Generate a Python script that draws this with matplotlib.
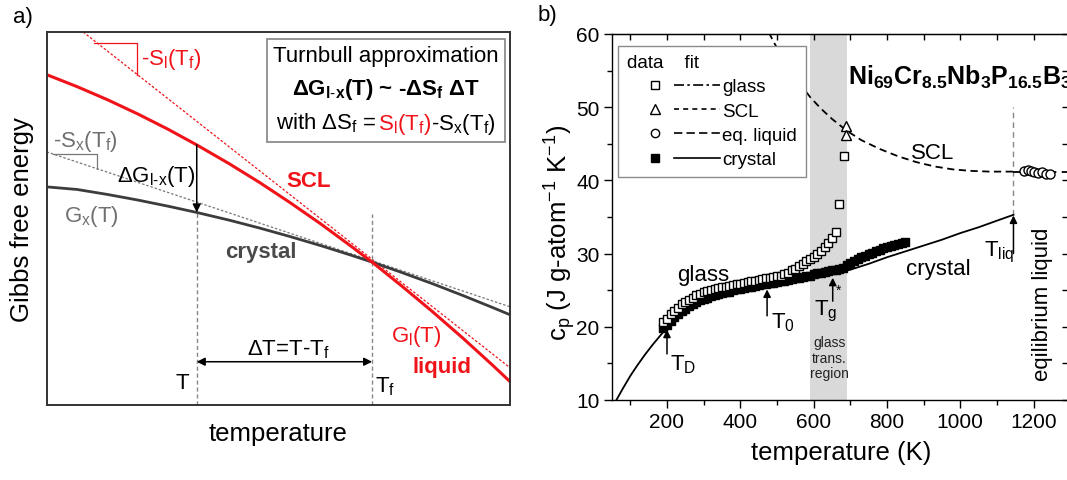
import matplotlib
matplotlib.use("Agg")
import matplotlib.pyplot as plt
from matplotlib.lines import Line2D
from matplotlib.legend_handler import HandlerBase
from matplotlib.offsetbox import TextArea, HPacker, VPacker, AnchoredOffsetbox
from matplotlib.ticker import MultipleLocator

plt.rcParams['font.family'] = ['Liberation Sans', 'DejaVu Sans']
plt.rcParams['mathtext.fontset'] = 'custom'
plt.rcParams['mathtext.rm'] = 'Liberation Sans'
plt.rcParams['mathtext.it'] = 'Liberation Sans:italic'
plt.rcParams['mathtext.bf'] = 'Liberation Sans:bold'
plt.rcParams['mathtext.default'] = 'regular'

RED = '#f0141a'
DARK = '#3c3c3c'
GREY = '#707070'

# ---- panel a): schematic free energy curves (arbitrary units) ----
temp_a = [0, 30, 60, 90, 120, 148, 180, 210, 240, 270, 300, 321, 350, 380, 410, 440, 457]
g_crystal = [218, 215.4, 210.4, 204.8, 198.6, 192.4, 184.7, 176.8, 168.3, 159.3,
             149.7, 142.7, 132.4, 121.3, 109.5, 97.2, 90.0]
g_liquid = [330.3, 318.3, 305.2, 290.9, 275.5, 260.0, 241.2, 222.4, 202.3, 181.2,
            158.8, 142.7, 119.0, 93.6, 67.1, 39.4, 23.1]
tangent_liq_T = [36, 457]
tangent_liq_G = [373, 37]
tangent_cry_T = [0, 457]
tangent_cry_G = [253, 98]
slope_liq_T = [47, 89, 89]
slope_liq_G = [362, 362, 330]
slope_cry_T = [6, 50, 50]
slope_cry_G = [251, 251, 236]
T_under = 148
T_fusion = 321
tf_line_top = 191

# ---- panel b): heat capacity of Ni69Cr8.5Nb3P16.5B3 ----
glass_T = [190, 200, 210, 220, 230, 240, 250, 260, 270, 280, 290, 300, 310, 320,
           330, 340, 350, 360, 370, 380, 390, 400, 410, 420, 430, 440, 450, 460,
           470, 480, 490, 500, 510, 520, 530, 540, 550, 560, 570, 580, 590, 600,
           610, 620, 630, 640, 650, 660, 670, 682]
glass_cp = [20.6, 21.1, 21.7, 22.2, 22.6, 23.1, 23.4, 23.7, 24.0, 24.3, 24.5, 24.7,
            24.9, 25.0, 25.1, 25.3, 25.4, 25.5, 25.6, 25.7, 25.8, 25.9, 26.0, 26.1,
            26.2, 26.3, 26.4, 26.5, 26.6, 26.7, 26.8, 26.9, 27.0, 27.2, 27.4, 27.7,
            27.9, 28.3, 28.6, 29.0, 29.3, 29.6, 30.0, 30.4, 30.9, 31.4, 32.1, 33.0,
            36.8, 43.4]
cry_T = [190, 200, 210, 220, 230, 240, 250, 260, 270, 280, 290, 300, 310, 320, 330,
         340, 350, 360, 370, 380, 390, 400, 410, 420, 430, 440, 450, 460, 470, 480,
         490, 500, 510, 520, 530, 540, 550, 560, 570, 580, 590, 600, 610, 620, 630,
         640, 650, 660, 670, 680, 690, 700, 710, 720, 730, 740, 750, 760, 770, 780,
         790, 800, 810, 820, 830, 840, 850]
cry_cp = [19.9, 20.3, 20.8, 21.3, 21.7, 22.1, 22.5, 22.8, 23.1, 23.4, 23.6, 23.8,
          24.0, 24.2, 24.3, 24.5, 24.6, 24.7, 24.8, 25.0, 25.1, 25.2, 25.3, 25.4,
          25.5, 25.6, 25.7, 25.8, 25.9, 26.0, 26.0, 26.1, 26.2, 26.3, 26.4, 26.5,
          26.6, 26.7, 26.8, 26.9, 27.0, 27.2, 27.3, 27.4, 27.5, 27.6, 27.7, 27.8,
          27.9, 28.1, 28.4, 28.7, 29.0, 29.2, 29.5, 29.7, 29.9, 30.1, 30.3, 30.5,
          30.7, 30.9, 31.0, 31.2, 31.3, 31.5, 31.6]
scl_T = [688, 689]
scl_cp = [47.4, 46.2]
liq_T = [1175, 1185, 1193, 1202, 1212, 1222, 1235, 1245]
liq_cp = [41.3, 41.4, 41.3, 41.2, 41.0, 41.1, 40.9, 40.9]

fit_cry_T = [62, 80, 100, 120, 140, 160, 180, 200, 250, 300, 350, 400, 450, 500,
             550, 600, 650, 700, 750, 800, 850, 900, 950, 1000, 1050, 1100, 1145]
fit_cry_cp = [10.0, 11.6, 13.3, 14.8, 16.2, 17.5, 18.7, 19.9, 22.1, 23.5, 24.4,
              25.0, 25.5, 25.9, 26.3, 26.7, 27.2, 27.8, 28.6, 29.5, 30.3, 31.1,
              31.9, 32.8, 33.6, 34.5, 35.3]
fit_scl_T = [478, 490, 510, 530, 560, 590, 620, 650, 690, 730, 780, 830, 880, 930,
             980, 1030, 1080, 1145]
fit_scl_cp = [60.2, 59.0, 57.2, 55.6, 53.4, 51.4, 49.8, 48.4, 46.8, 45.5, 44.3,
              43.3, 42.5, 41.9, 41.5, 41.3, 41.2, 41.2]
fit_liq_T = [1145, 1300]
fit_liq_cp = [41.2, 41.2]
glass_region = (590, 690)
T_liq = 1145


class MarkerLineHandler(HandlerBase):
    # legend entry: data marker on the left, fit line on the right
    def create_artists(self, legend, orig_handle, xdescent, ydescent,
                       width, height, fontsize, trans):
        mark, line = orig_handle
        y = height / 2 - ydescent
        m = Line2D([0.3 * width - xdescent], [y])
        m.update_from(mark)
        m.set_linestyle('none')
        m.set_transform(trans)
        ln = Line2D([0.5 * width - xdescent, width - xdescent], [y, y])
        ln.update_from(line)
        ln.set_marker('')
        ln.set_transform(trans)
        return [m, ln]


fig = plt.figure(figsize=(10.67, 4.81), dpi=100)
ax1 = fig.add_axes([46.7 / 1067, 1 - 405.7 / 481, 463.3 / 1067, 372.7 / 481])
ax2 = fig.add_axes([612 / 1067, 1 - 401 / 481, 458.3 / 1067, 366 / 481])

# ---------------- panel a ----------------
ax1.set_xlim(0, 457)
ax1.set_ylim(0, 373)
ax1.set_xticks([])
ax1.set_yticks([])
for s in ax1.spines.values():
    s.set_color('#333333')
    s.set_linewidth(1.4)

ax1.plot(tangent_liq_T, tangent_liq_G, color=RED, lw=0.9, ls=(0, (2, 1.5)))
ax1.plot(tangent_cry_T, tangent_cry_G, color='#777777', lw=0.9, ls=(0, (2, 1.5)))
ax1.plot(slope_liq_T, slope_liq_G, color=RED, lw=0.9)
ax1.plot(slope_cry_T, slope_cry_G, color='#777777', lw=0.9)
ax1.plot([T_under, T_under], [0, g_crystal[5]], color='#888888', lw=1, ls=(0, (3, 2)))
ax1.plot([T_fusion, T_fusion], [0, tf_line_top], color='#888888', lw=1, ls=(0, (3, 2)))
ax1.plot(temp_a, g_crystal, color=DARK, lw=2.0)
ax1.plot(temp_a, g_liquid, color=RED, lw=2.2)

ax1.annotate('', xy=(T_under, g_crystal[5]), xytext=(T_under, g_liquid[5]),
             arrowprops=dict(arrowstyle='-|>', color='k', lw=1.1, mutation_scale=12,
                             shrinkA=0, shrinkB=0))
ax1.annotate('', xy=(T_under, 43), xytext=(T_fusion, 43),
             arrowprops=dict(arrowstyle='<|-|>', color='k', lw=1.1, mutation_scale=12,
                             shrinkA=0, shrinkB=0))

fs = 16
ax1.text(93, 346, '-S$_l$(T$_f$)', color=RED, fontsize=fs, va='center')
ax1.text(6, 264, '-S$_x$(T$_f$)', color=GREY, fontsize=fs, va='center')
ax1.text(69, 229, r'ΔG$_{l\text{-}x}$(T)', color='k', fontsize=fs, va='center')
ax1.text(17, 189, 'G$_x$(T)', color=GREY, fontsize=fs, va='center')
ax1.text(211, 153, 'crystal', color='#4a4a4a', fontsize=fs, fontweight='bold',
         ha='center', va='center')
ax1.text(258, 224, 'SCL', color=RED, fontsize=fs, fontweight='bold', ha='center', va='center')
ax1.text(340, 69, 'G$_l$(T)', color=RED, fontsize=fs, va='center')
ax1.text(361, 38, 'liquid', color=RED, fontsize=fs, fontweight='bold', va='center')
ax1.text(238, 56, 'ΔT=T-T$_f$', color='k', fontsize=fs, ha='center', va='center')
ax1.text(134, 22, 'T', color='k', fontsize=fs, ha='center', va='center')
ax1.text(324, 19, 'T$_f$', color='k', fontsize=fs, va='center')

line1 = TextArea('Turnbull approximation', textprops=dict(fontsize=fs))
line2 = TextArea(r'ΔG$_{l\text{-}x}$(T) ~ -ΔS$_f$ ΔT',
                 textprops=dict(fontsize=fs, fontweight='bold'))
line3 = HPacker(children=[TextArea('with ΔS$_f$ = ', textprops=dict(fontsize=fs)),
                          TextArea('S$_l$(T$_f$)', textprops=dict(fontsize=fs, color=RED)),
                          TextArea('-S$_x$(T$_f$)', textprops=dict(fontsize=fs))],
                align='baseline', pad=0, sep=0)
box = VPacker(children=[line1, line2, line3], align='center', pad=0, sep=7)
anc = AnchoredOffsetbox(loc='upper right', child=box, pad=0.45, borderpad=0,
                        frameon=True, bbox_to_anchor=(0.989, 0.981),
                        bbox_transform=ax1.transAxes)
anc.patch.set_edgecolor('#8c8c8c')
anc.patch.set_linewidth(1.3)
ax1.add_artist(anc)

ax1.set_xlabel('temperature', fontsize=18.5)
ax1.xaxis.set_label_coords(0.5, -0.044)
ax1.set_ylabel('Gibbs free energy', fontsize=18.5)
ax1.yaxis.set_label_coords(-0.028, 0.5)

# ---------------- panel b ----------------
ax2.set_xlim(50, 1300)
ax2.set_ylim(10, 60)
ax2.axvspan(*glass_region, color='#d9d9d9', lw=0, zorder=0)
ax2.plot([T_liq, T_liq], [fit_cry_cp[-1], 50], color='#888888', lw=1, ls=(0, (4, 3)))

ax2.plot(fit_cry_T, fit_cry_cp, color='k', lw=1.3)
ax2.plot(fit_scl_T, fit_scl_cp, color='k', lw=1.3, ls=(0, (4, 2.5)))
ax2.plot(fit_liq_T, fit_liq_cp, color='k', lw=1.3, ls=(0, (6, 3)))
ax2.plot(cry_T, cry_cp, 's', ms=5.5, color='k', zorder=3)
ax2.plot(glass_T, glass_cp, 's', ms=5.8, mfc='white', mec='k', mew=1, zorder=4)
ax2.plot(scl_T, scl_cp, '^', ms=7.5, mfc='white', mec='k', mew=1, zorder=4)
ax2.plot(liq_T, liq_cp, 'o', ms=6.5, mfc='white', mec='k', mew=1, zorder=4)

arrow_kw = dict(arrowstyle='-|>', color='k', lw=1.1, mutation_scale=11, shrinkA=0, shrinkB=0)
ax2.annotate('', xy=(200, 19.6), xytext=(200, 16.3), arrowprops=arrow_kw)
ax2.annotate('', xy=(473, 25.1), xytext=(473, 21.5), arrowprops=arrow_kw)
ax2.annotate('', xy=(652, 26.7), xytext=(652, 23.5), arrowprops=arrow_kw)
ax2.annotate('', xy=(T_liq, 35.2), xytext=(T_liq, 30.0), arrowprops=arrow_kw)

fb = 16
ax2.text(208, 14.9, 'T$_D$', fontsize=fb, va='center')
ax2.text(484, 20.7, 'T$_0$', fontsize=fb, va='center')
ax2.text(634, 22.2, 'T$_g$', fontsize=fb, ha='center', va='center')
ax2.text(668, 25.0, '*', fontsize=10, ha='center', va='center')
ax2.text(643, 15.8, 'glass\ntrans.\nregion', fontsize=10, ha='center', va='center',
         linespacing=1.15, color='#222222')
ax2.text(T_liq + 3, 30.3, 'T$_{liq}$', fontsize=fb, ha='right', va='center')
ax2.text(299, 27.1, 'glass', fontsize=fb, ha='center', va='center')
ax2.text(940, 28.0, 'crystal', fontsize=fb, ha='center', va='center')
ax2.text(924, 43.8, 'SCL', fontsize=fb, ha='center', va='center')
ax2.text(1223, 23.2, 'eqilibrium liquid', fontsize=fb, rotation=90,
         ha='center', va='center')
ax2.text(695, 53.2, 'Ni$_{69}$Cr$_{8.5}$Nb$_3$P$_{16.5}$B$_3$', fontsize=18,
         fontweight='bold', va='baseline')

glass_mk = Line2D([], [], ls='none', marker='s', ms=5.5, mfc='white', mec='k', mew=1)
glass_ln = Line2D([], [], color='k', lw=1.2, ls=(0, (6, 2, 1.5, 2)))
scl_mk = Line2D([], [], ls='none', marker='^', ms=7, mfc='white', mec='k', mew=1)
scl_ln = Line2D([], [], color='k', lw=1.2, ls=(0, (3, 2.5)))
liq_mk = Line2D([], [], ls='none', marker='o', ms=6, mfc='white', mec='k', mew=1)
liq_ln = Line2D([], [], color='k', lw=1.2, ls=(0, (5, 2.5)))
cry_mk = Line2D([], [], ls='none', marker='s', ms=5.5, color='k')
cry_ln = Line2D([], [], color='k', lw=1.2)
leg = ax2.legend([(glass_mk, glass_ln), (scl_mk, scl_ln), (liq_mk, liq_ln), (cry_mk, cry_ln)],
                 ['glass', 'SCL', 'eq. liquid', 'crystal'],
                 handler_map={tuple: MarkerLineHandler()},
                 loc='upper left', bbox_to_anchor=(6.3 / 458.3, 1 - 11.7 / 366),
                 borderaxespad=0, fontsize=13.5, title='data    fit', title_fontsize=13.5,
                 alignment='left', handlelength=5.0, handletextpad=0.1,
                 labelspacing=0.38, borderpad=0.45, fancybox=False,
                 edgecolor='#8a8a8a', framealpha=1)
leg.get_frame().set_linewidth(1.0)

ax2.xaxis.set_major_locator(MultipleLocator(200))
ax2.xaxis.set_minor_locator(MultipleLocator(100))
ax2.yaxis.set_major_locator(MultipleLocator(10))
ax2.yaxis.set_minor_locator(MultipleLocator(5))
ax2.tick_params(which='major', direction='out', length=5.5, width=1, labelsize=15)
ax2.tick_params(which='minor', direction='out', length=3.5, width=1)
for s in ax2.spines.values():
    s.set_linewidth(1.0)

secx = ax2.secondary_xaxis('top')
secx.xaxis.set_major_locator(MultipleLocator(200))
secx.xaxis.set_minor_locator(MultipleLocator(100))
secx.tick_params(which='both', direction='in', labeltop=False, length=4.5, width=1)
secy = ax2.secondary_yaxis('right')
secy.yaxis.set_major_locator(MultipleLocator(10))
secy.yaxis.set_minor_locator(MultipleLocator(5))
secy.tick_params(which='both', direction='in', labelright=False, length=6, width=1)

ax2.set_xlabel('temperature (K)', fontsize=18.5)
ax2.xaxis.set_label_coords(0.5, -0.109)
ax2.set_ylabel('c$_p$ (J g-atom$^{-1}$ K$^{-1}$)', fontsize=18.5)
ax2.yaxis.set_label_coords(-0.074, 0.459)

fig.text(23 / 1067, 1 - 18 / 481, 'a)', fontsize=16, ha='center', va='center')
fig.text(547 / 1067, 1 - 16 / 481, 'b)', fontsize=16, ha='center', va='center')

fig.savefig('out.png', dpi=100)
